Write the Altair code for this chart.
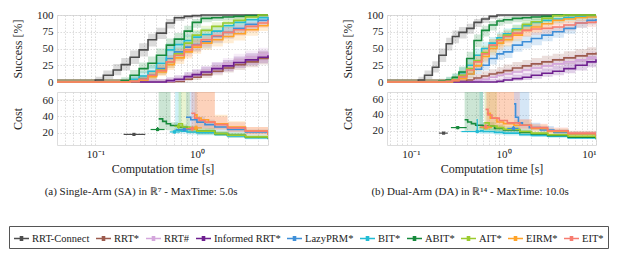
import altair as alt
import pandas as pd

PLANNERS = ["RRT-Connect", "RRT*", "RRT#", "Informed RRT*", "LazyPRM*",
            "BIT*", "ABIT*", "AIT*", "EIRM*", "EIT*"]
COLORS = ["#4d4d4d", "#9c5b4e", "#d4a6dc", "#6e1f8f", "#3f8fd8",
          "#22bcd4", "#178a3c", "#9bcb2e", "#ffa328", "#f77c70"]

# ---------------- Single-Arm (SA) success ----------------
SA_TIME = [0.042, 0.08, 0.1, 0.12, 0.15, 0.18, 0.22, 0.27, 0.33, 0.4, 0.5,
           0.6, 0.75, 0.9, 1.1, 1.4, 1.8, 2.3, 3.0, 4.0, 5.0]
SA_SUCCESS = [
    [0, 0, 3, 10, 18, 26, 37, 48, 63, 73, 88, 96, 98, 99, 100, 100, 100, 100, 100, 100, 100],
    [0, 0, 0, 0, 0, 0, 0, 0, 0, 0, 0, 1, 4, 7, 11, 16, 21, 26, 30, 35, 38],
    [0, 0, 0, 0, 0, 0, 0, 0, 0, 0, 1, 3, 7, 11, 15, 21, 27, 32, 37, 41, 44],
    [0, 0, 0, 0, 0, 0, 0, 0, 0, 0, 2, 4, 8, 11, 15, 20, 24, 29, 33, 37, 40],
    [0, 0, 0, 0, 0, 0, 2, 5, 10, 20, 35, 45, 52, 56, 60, 68, 74, 80, 86, 92, 95],
    [0, 0, 0, 0, 0, 1, 4, 9, 16, 28, 48, 56, 62, 67, 71, 76, 84, 89, 93, 96, 97],
    [0, 0, 0, 0, 0, 2, 10, 20, 28, 40, 55, 64, 76, 89, 95, 96, 97, 98, 99, 100, 100],
    [0, 0, 0, 0, 0, 0, 1, 4, 9, 18, 30, 42, 58, 70, 77, 83, 88, 92, 97, 100, 100],
    [0, 0, 0, 0, 0, 0, 1, 3, 8, 15, 26, 36, 45, 52, 58, 63, 68, 72, 78, 84, 88],
    [0, 0, 0, 0, 0, 0, 1, 4, 10, 17, 30, 40, 48, 55, 63, 69, 74, 78, 83, 88, 92],
]
SA_LOWER = [
    [0, 0, 0, 4, 10, 17, 27, 38, 53, 64, 80, 91, 94, 96, 97, 97, 97, 97, 97, 97, 97],
    [0, 0, 0, 0, 0, 0, 0, 0, 0, 0, 0, 0, 1, 3, 6, 10, 14, 18, 22, 26, 29],
    [0, 0, 0, 0, 0, 0, 0, 0, 0, 0, 0, 1, 3, 6, 9, 14, 19, 23, 28, 32, 35],
    [0, 0, 0, 0, 0, 0, 0, 0, 0, 0, 0, 1, 4, 6, 9, 13, 16, 21, 25, 28, 31],
    [0, 0, 0, 0, 0, 0, 0, 2, 5, 13, 26, 36, 42, 46, 50, 58, 65, 71, 78, 85, 89],
    [0, 0, 0, 0, 0, 0, 1, 4, 10, 20, 38, 46, 52, 57, 61, 67, 76, 82, 87, 91, 92],
    [0, 0, 0, 0, 0, 0, 5, 13, 20, 30, 45, 54, 67, 81, 89, 91, 92, 94, 95, 97, 97],
    [0, 0, 0, 0, 0, 0, 0, 1, 4, 11, 21, 32, 48, 60, 68, 75, 81, 86, 92, 97, 97],
    [0, 0, 0, 0, 0, 0, 0, 1, 4, 9, 18, 27, 35, 42, 48, 53, 58, 62, 69, 76, 80],
    [0, 0, 0, 0, 0, 0, 0, 1, 5, 11, 21, 31, 38, 45, 53, 59, 65, 69, 75, 81, 85],
]
SA_UPPER = [
    [4, 4, 8, 17, 27, 36, 47, 58, 72, 81, 94, 99, 100, 100, 100, 100, 100, 100, 100, 100, 100],
    [4, 4, 4, 4, 4, 4, 4, 4, 4, 4, 4, 5, 10, 14, 19, 25, 30, 35, 39, 45, 48],
    [4, 4, 4, 4, 4, 4, 4, 4, 4, 4, 5, 8, 13, 18, 23, 30, 36, 42, 47, 51, 54],
    [4, 4, 4, 4, 4, 4, 4, 4, 4, 4, 7, 10, 15, 19, 23, 29, 33, 38, 43, 47, 50],
    [4, 4, 4, 4, 4, 4, 7, 11, 17, 29, 45, 55, 62, 66, 70, 76, 82, 87, 92, 96, 98],
    [4, 4, 4, 4, 4, 5, 10, 16, 25, 38, 58, 65, 71, 76, 80, 84, 90, 94, 97, 99, 99],
    [4, 4, 4, 4, 4, 7, 18, 29, 38, 50, 65, 73, 84, 94, 98, 99, 99, 100, 100, 100, 100],
    [4, 4, 4, 4, 4, 4, 5, 10, 16, 27, 40, 52, 67, 78, 84, 89, 93, 96, 99, 100, 100],
    [4, 4, 4, 4, 4, 4, 5, 8, 14, 23, 35, 46, 55, 62, 67, 72, 77, 80, 85, 90, 93],
    [4, 4, 4, 4, 4, 4, 5, 9, 17, 26, 40, 50, 58, 65, 72, 77, 82, 85, 89, 93, 96],
]

# ---------------- Dual-Arm (DA) success ----------------
DA_TIME = [0.055, 0.1, 0.12, 0.14, 0.17, 0.2, 0.24, 0.28, 0.33, 0.4, 0.48, 0.58,
           0.7, 0.85, 1.0, 1.25, 1.6, 2.0, 2.6, 3.4, 4.5, 6.0, 8.0, 10.0]
DA_SUCCESS = [
    [0, 0, 3, 10, 22, 40, 57, 68, 74, 80, 89, 94, 98, 100, 100, 100, 100, 100, 100, 100, 100, 100, 100, 100],
    [0, 0, 0, 0, 0, 0, 0, 0, 1, 3, 6, 9, 12, 14, 17, 21, 24, 27, 30, 33, 36, 39, 42, 44],
    [0, 0, 0, 0, 0, 0, 0, 0, 0, 0, 2, 4, 7, 10, 12, 15, 18, 21, 24, 27, 30, 33, 36, 38],
    [0, 0, 0, 0, 0, 0, 0, 0, 0, 0, 0, 0, 0, 1, 3, 5, 7, 10, 13, 16, 20, 25, 30, 34],
    [0, 0, 0, 0, 0, 0, 0, 3, 8, 12, 19, 25, 35, 42, 45, 55, 60, 65, 70, 75, 80, 88, 92, 94],
    [0, 0, 0, 0, 0, 0, 2, 6, 14, 25, 40, 50, 58, 66, 72, 79, 84, 89, 92, 94, 96, 97, 98, 98],
    [0, 0, 0, 0, 0, 1, 3, 7, 15, 35, 62, 77, 85, 91, 93, 95, 96, 97, 98, 100, 100, 100, 100, 100],
    [0, 0, 0, 0, 0, 0, 1, 4, 10, 20, 32, 44, 54, 63, 70, 78, 86, 90, 95, 99, 100, 100, 100, 100],
    [0, 0, 0, 0, 0, 0, 0, 2, 5, 12, 24, 38, 50, 58, 63, 70, 77, 82, 87, 92, 94, 96, 97, 98],
    [0, 0, 0, 0, 0, 0, 1, 3, 8, 18, 30, 42, 55, 62, 68, 73, 77, 79, 80, 82, 85, 88, 89, 91],
]
DA_LOWER = [
    [0, 0, 0, 4, 14, 30, 47, 58, 65, 72, 82, 88, 94, 97, 97, 97, 97, 97, 97, 97, 97, 97, 97, 97],
    [0, 0, 0, 0, 0, 0, 0, 0, 0, 1, 2, 4, 6, 8, 10, 14, 16, 19, 22, 25, 27, 30, 33, 35],
    [0, 0, 0, 0, 0, 0, 0, 0, 0, 0, 0, 1, 3, 5, 6, 9, 11, 14, 16, 19, 22, 24, 27, 29],
    [0, 0, 0, 0, 0, 0, 0, 0, 0, 0, 0, 0, 0, 0, 1, 2, 3, 5, 8, 10, 13, 17, 22, 26],
    [0, 0, 0, 0, 0, 0, 0, 1, 4, 7, 12, 17, 26, 33, 36, 45, 50, 55, 61, 66, 72, 81, 86, 89],
    [0, 0, 0, 0, 0, 0, 0, 2, 8, 17, 31, 40, 48, 56, 62, 70, 76, 82, 86, 88, 91, 92, 94, 94],
    [0, 0, 0, 0, 0, 0, 0, 3, 9, 26, 52, 68, 77, 84, 87, 89, 91, 92, 94, 97, 97, 97, 97, 97],
    [0, 0, 0, 0, 0, 0, 0, 1, 5, 13, 23, 34, 44, 53, 60, 69, 78, 83, 89, 95, 97, 97, 97, 97],
    [0, 0, 0, 0, 0, 0, 0, 0, 2, 6, 16, 29, 40, 48, 53, 61, 68, 74, 80, 86, 88, 91, 92, 94],
    [0, 0, 0, 0, 0, 0, 0, 1, 4, 11, 21, 32, 45, 52, 58, 64, 68, 70, 72, 74, 77, 81, 82, 84],
]
DA_UPPER = [
    [4, 4, 8, 17, 31, 50, 66, 77, 82, 87, 94, 97, 100, 100, 100, 100, 100, 100, 100, 100, 100, 100, 100, 100],
    [4, 4, 4, 4, 4, 4, 4, 4, 5, 8, 12, 16, 19, 22, 26, 30, 33, 36, 39, 42, 46, 49, 52, 54],
    [4, 4, 4, 4, 4, 4, 4, 4, 4, 4, 7, 10, 14, 17, 20, 23, 27, 30, 33, 36, 39, 42, 46, 48],
    [4, 4, 4, 4, 4, 4, 4, 4, 4, 4, 4, 4, 4, 5, 8, 11, 13, 17, 20, 24, 28, 34, 39, 43],
    [4, 4, 4, 4, 4, 4, 4, 8, 14, 19, 27, 34, 45, 52, 55, 64, 69, 74, 78, 82, 87, 93, 96, 97],
    [4, 4, 4, 4, 4, 4, 7, 12, 22, 34, 50, 60, 67, 74, 80, 86, 90, 94, 96, 97, 99, 99, 100, 100],
    [4, 4, 4, 4, 4, 5, 8, 13, 23, 45, 71, 84, 91, 95, 97, 98, 99, 99, 100, 100, 100, 100, 100, 100],
    [4, 4, 4, 4, 4, 4, 5, 9, 17, 29, 42, 54, 64, 72, 78, 85, 92, 95, 98, 100, 100, 100, 100, 100],
    [4, 4, 4, 4, 4, 4, 4, 7, 11, 19, 33, 48, 60, 67, 72, 78, 84, 88, 92, 96, 97, 99, 99, 100],
    [4, 4, 4, 4, 4, 4, 5, 8, 14, 26, 39, 52, 64, 71, 76, 81, 84, 86, 87, 89, 91, 93, 94, 96],
]

# ---------------- SA cost (median + CI) ----------------
SA_COST_TIME = [
    [], [], [], [],
    [0.78, 0.87, 1.0, 1.2, 1.5, 2.0, 3.0, 5.0],
    [0.61, 0.7, 0.8, 1.0, 1.5, 2.0, 3.0, 5.0],
    [0.42, 0.46, 0.5, 0.55, 0.65, 0.8, 1.0, 1.5, 2.0, 3.0, 5.0],
    [0.66, 0.72, 0.85, 1.0, 1.5, 2.0, 3.0, 5.0],
    [0.95, 1.0, 1.1, 1.3, 1.5, 2.0, 3.0, 5.0],
    [0.88, 0.95, 1.05, 1.2, 1.5, 2.0, 3.0, 5.0],
]
SA_COST_MED = [
    [], [], [], [],
    [39, 36, 33, 30, 27, 24, 21, 18],
    [23, 22, 21, 20, 18, 16, 14, 12],
    [37, 34, 31, 29, 27, 25, 22, 19, 17, 15, 13],
    [31, 27, 24, 22, 19, 17, 15, 13],
    [42, 38, 36, 33, 31, 27, 22, 17],
    [44, 38, 35, 33, 30, 26, 22, 18],
]
SA_COST_LO = [
    [], [], [], [],
    [25, 25, 25, 24, 22, 20, 18, 16],
    [19, 19, 18, 17, 16, 14, 12, 11],
    [24, 24, 23, 22, 21, 20, 18, 16, 14, 13, 11],
    [21, 21, 20, 19, 17, 15, 13, 11],
    [26, 26, 26, 25, 24, 21, 18, 15],
    [25, 25, 25, 25, 24, 21, 18, 16],
]
SA_COST_HI = [
    [], [], [], [],
    [70, 70, 40, 36, 32, 28, 24, 20],
    [70, 27, 25, 23, 21, 19, 16, 14],
    [70, 70, 70, 33, 30, 28, 25, 22, 20, 17, 15],
    [70, 70, 29, 26, 22, 20, 17, 15],
    [70, 70, 70, 70, 42, 34, 27, 20],
    [70, 70, 70, 70, 40, 33, 27, 21],
]
SA_INIT_T = [0.24, None, None, None, 0.75, 0.6, 0.41, 0.66, 0.98, 0.9]
SA_INIT_TLO = [0.19, None, None, None, 0.62, 0.54, 0.35, 0.6, 0.85, 0.78]
SA_INIT_THI = [0.31, None, None, None, 0.88, 0.68, 0.48, 0.74, 1.12, 1.02]
SA_INIT_C = [18, None, None, None, 24, 21, 24, 28, 26, 25]
SA_INIT_CLO = [17, None, None, None, 22, 19, 22, 25, 23, 22]
SA_INIT_CHI = [19, None, None, None, 26, 23, 27, 32, 29, 28]

# ---------------- DA cost (median + CI) ----------------
DA_COST_TIME = [
    [], [], [], [],
    [1.3, 1.35, 1.45, 1.6, 1.9, 2.5, 3.5, 5.0, 10.0],
    [0.55, 0.6, 0.8, 1.0, 1.5, 2.0, 3.0, 5.0, 10.0],
    [0.38, 0.41, 0.45, 0.5, 0.6, 0.8, 1.0, 1.5, 2.0, 3.0, 5.0, 10.0],
    [0.62, 0.7, 0.85, 1.0, 1.5, 2.0, 3.0, 5.0, 10.0],
    [0.66, 0.72, 0.85, 1.0, 1.3, 2.0, 3.0, 5.0, 10.0],
    [0.64, 0.68, 0.75, 0.9, 1.1, 1.5, 2.0, 3.0, 5.0, 10.0],
]
DA_COST_MED = [
    [], [], [], [],
    [54, 37, 30, 27, 24, 21, 18, 16, 13],
    [20, 19, 18, 17, 15, 14, 13, 11, 9],
    [34, 31, 29, 27, 26, 23, 21, 18, 16, 14, 12, 10],
    [30, 26, 24, 22, 19, 17, 15, 13, 10],
    [42, 36, 31, 29, 27, 23, 19, 16, 13],
    [47, 40, 36, 33, 30, 27, 24, 20, 17, 14],
]
DA_COST_LO = [
    [], [], [], [],
    [20, 20, 20, 20, 20, 18, 16, 14, 11],
    [16, 16, 15, 14, 13, 12, 11, 10, 8],
    [20, 20, 20, 21, 21, 19, 18, 16, 14, 12, 11, 9],
    [20, 20, 20, 19, 17, 15, 13, 11, 9],
    [24, 24, 24, 23, 22, 19, 16, 14, 11],
    [25, 25, 25, 25, 25, 23, 21, 18, 15, 12],
]
DA_COST_HI = [
    [], [], [], [],
    [69, 69, 69, 69, 30, 26, 22, 19, 15],
    [69, 23, 21, 20, 18, 16, 15, 13, 11],
    [69, 69, 69, 69, 31, 27, 24, 21, 18, 16, 14, 12],
    [69, 69, 29, 26, 22, 19, 17, 15, 12],
    [69, 69, 69, 69, 34, 28, 23, 19, 15],
    [69, 69, 69, 69, 69, 35, 29, 24, 20, 16],
]
DA_INIT_T = [0.225, None, None, None, 1.28, 0.52, 0.32, 0.63, 0.66, 0.64]
DA_INIT_TLO = [0.2, None, None, None, 1.1, 0.35, 0.27, 0.55, 0.58, 0.56]
DA_INIT_THI = [0.25, None, None, None, 1.45, 0.58, 0.4, 0.72, 0.75, 0.72]
DA_INIT_C = [17, None, None, None, 23, 19, 24, 24, 24, 25]
DA_INIT_CLO = [16, None, None, None, 21, 17, 22, 22, 22, 22]
DA_INIT_CHI = [18, None, None, None, 26, 35, 26, 28, 27, 28]

SA_XTICKS = [0.05, 0.06, 0.07, 0.08, 0.09, 0.1, 0.2, 0.3, 0.4, 0.5, 0.6, 0.7,
             0.8, 0.9, 1, 2, 3, 4, 5]
DA_XTICKS = [0.06, 0.07, 0.08, 0.09, 0.1, 0.2, 0.3, 0.4, 0.5, 0.6, 0.7, 0.8,
             0.9, 1, 2, 3, 4, 5, 6, 7, 8, 9, 10]

FONT = "Liberation Serif"
LABEL_EXPR = ("datum.value == 0.1 ? '10⁻¹' : datum.value == 1 ? '10⁰' : "
              "datum.value == 10 ? '10¹' : ''")
# legend glyph: a line with a (stroke-filled) square marker in the middle
SYMBOL = ("M-1,0H1M-0.24,-0.24H0.24M-0.24,-0.12H0.24M-0.24,0.12H0.24"
          "M-0.24,0.24H0.24")

LEGEND = alt.Legend(
    title=None, orient="none", legendX=-48, legendY=211, direction="horizontal",
    columns=10, symbolType=SYMBOL, symbolSize=225, symbolStrokeWidth=1.3,
    labelFont=FONT, labelFontSize=10.5, labelColor="#222", labelOffset=2,
    columnPadding=3, padding=4, strokeColor="#555", fillColor="white",
)


def line_color():
    return alt.Color("planner:N", scale=alt.Scale(domain=PLANNERS, range=COLORS),
                     legend=LEGEND, sort=PLANNERS)


# fill/stroke scales list the planners in reverse order (same mapping) so that
# Vega-Lite does not merge their hidden legends into the visible colour legend
def fill_color():
    return alt.Fill("planner:N", scale=alt.Scale(domain=PLANNERS[::-1], range=COLORS[::-1]),
                    legend=None)


def stroke_color():
    return alt.Stroke("planner:N", scale=alt.Scale(domain=PLANNERS[::-1], range=COLORS[::-1]),
                      legend=None)


def success_df(times, succ, lo, hi):
    rows = []
    for k, p in enumerate(PLANNERS):
        for t, s, a, b in zip(times, succ[k], lo[k], hi[k]):
            rows.append({"planner": p, "t": t, "s": s, "lo": a, "hi": b, "k": k})
    return pd.DataFrame(rows)


def cost_df(times, med, lo, hi):
    rows = []
    for k, p in enumerate(PLANNERS):
        for t, m, a, b in zip(times[k], med[k], lo[k], hi[k]):
            rows.append({"planner": p, "t": t, "c": m, "lo": a, "hi": b, "k": k})
    return pd.DataFrame(rows)


def init_df(t, tlo, thi, c, clo, chi):
    rows = []
    for k, p in enumerate(PLANNERS):
        if t[k] is None:
            continue
        rows.append({"planner": p, "t": t[k], "tlo": tlo[k], "thi": thi[k],
                     "c": c[k], "clo": clo[k], "chi": chi[k]})
    return pd.DataFrame(rows)


def grid_axis(**kw):
    base = dict(grid=True, gridColor="#cfcfcf", gridDash=[1.5, 1.5], gridWidth=0.7,
                domain=False, ticks=False, labelFont=FONT, labelFontSize=11,
                titleFont=FONT, titleFontWeight="normal", labelColor="#222",
                titleColor="#222")
    base.update(kw)
    return alt.Axis(**base)


def success_chart(df, xdom, xticks, width):
    xs = alt.Scale(type="log", domain=xdom, nice=False)
    ys = alt.Scale(domain=[0, 100], nice=False)
    xax = grid_axis(values=xticks, labels=False, title=None)
    yax = grid_axis(values=[0, 25, 50, 75, 100], title="Success [%]", titleFontSize=12,
                    titleX=-33, labelPadding=4)
    band = alt.Chart(df).mark_area(opacity=0.2, interpolate="step-after").encode(
        x=alt.X("t:Q", scale=xs, axis=xax),
        y=alt.Y("lo:Q", scale=ys, axis=yax),
        y2="hi:Q",
        fill=fill_color(),
        detail="planner:N",
    )
    line = alt.Chart(df).mark_line(interpolate="step-after", strokeWidth=1.6).encode(
        x=alt.X("t:Q", scale=xs, axis=xax),
        y=alt.Y("s:Q", scale=ys, axis=yax),
        color=line_color(),
        order="k:Q",
    )
    return alt.layer(band, line).properties(width=width, height=67)


def cost_chart(cdf, idf, xdom, xticks, ydom, width):
    xs = alt.Scale(type="log", domain=xdom, nice=False)
    ys = alt.Scale(domain=ydom, nice=False)
    xax = grid_axis(values=xticks, labelExpr=LABEL_EXPR, title="Computation time [s]",
                    titleFontSize=12, labelPadding=3, titlePadding=4, labelFontSize=11)
    yax = grid_axis(values=[20, 40, 60], title="Cost", titleFontSize=12, titleX=-33,
                    labelPadding=4)
    band = alt.Chart(cdf).mark_area(opacity=0.22, interpolate="step-after", clip=True).encode(
        x=alt.X("t:Q", scale=xs, axis=xax),
        y=alt.Y("lo:Q", scale=ys, axis=yax),
        y2="hi:Q",
        fill=fill_color(),
        detail="planner:N",
    )
    line = alt.Chart(cdf).mark_line(interpolate="step-after", strokeWidth=1.6, clip=True).encode(
        x=alt.X("t:Q", scale=xs, axis=xax),
        y=alt.Y("c:Q", scale=ys, axis=yax),
        color=line_color(),
        detail="planner:N",
    )
    hbar = alt.Chart(idf).mark_rule(strokeWidth=1.2).encode(
        x=alt.X("tlo:Q", scale=xs, axis=xax), x2="thi:Q",
        y=alt.Y("c:Q", scale=ys, axis=yax), stroke=stroke_color())
    vbar = alt.Chart(idf).mark_rule(strokeWidth=1.2).encode(
        x=alt.X("t:Q", scale=xs, axis=xax),
        y=alt.Y("clo:Q", scale=ys, axis=yax), y2="chi:Q", stroke=stroke_color())
    dot = alt.Chart(idf).mark_point(shape="square", filled=True, size=10, opacity=1).encode(
        x=alt.X("t:Q", scale=xs, axis=xax),
        y=alt.Y("c:Q", scale=ys, axis=yax), fill=fill_color())
    return alt.layer(band, line, hbar, vbar, dot).properties(width=width, height=53)


sa_succ = success_chart(success_df(SA_TIME, SA_SUCCESS, SA_LOWER, SA_UPPER),
                        [0.042, 5.0], SA_XTICKS, 211)
sa_cost = cost_chart(cost_df(SA_COST_TIME, SA_COST_MED, SA_COST_LO, SA_COST_HI),
                     init_df(SA_INIT_T, SA_INIT_TLO, SA_INIT_THI, SA_INIT_C, SA_INIT_CLO, SA_INIT_CHI),
                     [0.042, 5.0], SA_XTICKS, [5, 70], 211)
da_succ = success_chart(success_df(DA_TIME, DA_SUCCESS, DA_LOWER, DA_UPPER),
                        [0.055, 10.0], DA_XTICKS, 209)
da_cost = cost_chart(cost_df(DA_COST_TIME, DA_COST_MED, DA_COST_LO, DA_COST_HI),
                     init_df(DA_INIT_T, DA_INIT_TLO, DA_INIT_THI, DA_INIT_C, DA_INIT_CLO, DA_INIT_CHI),
                     [0.055, 10.0], DA_XTICKS, [2, 69], 209)


def caption(text):
    return alt.TitleParams(text=text, orient="bottom", anchor="middle", font=FONT,
                           fontSize=11, fontWeight="normal", color="#222", offset=11)


left = alt.vconcat(sa_succ, sa_cost, spacing=3).properties(
    title=caption("(a) Single-Arm (SA) in ℝ⁷ - MaxTime: 5.0s"))
right = alt.vconcat(da_succ, da_cost, spacing=3).properties(
    title=caption("(b) Dual-Arm (DA) in ℝ¹⁴ - MaxTime: 10.0s"))

chart = alt.hconcat(left, right, spacing=68).properties(padding=0).configure_view(
    stroke="#555", strokeWidth=1
).configure(font=FONT)

chart.save("out.html", embed_options={"renderer": "svg", "actions": False})
